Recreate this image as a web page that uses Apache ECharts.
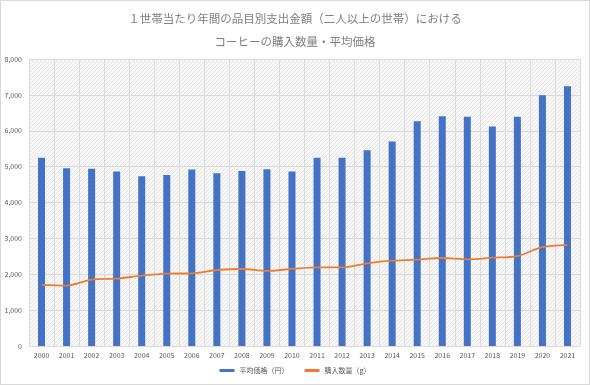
<!DOCTYPE html>
<html><head><meta charset="utf-8">
<script src="https://cdn.jsdelivr.net/npm/echarts@6/dist/echarts.min.js"></script>
<style>html,body{margin:0;padding:0;background:#fff}#c{width:590px;height:385px;box-sizing:border-box;border:1px solid #d9d9d9}</style>
</head><body><div id="c"></div>
<script>
const years = ['2000','2001','2002','2003','2004','2005','2006','2007','2008','2009','2010','2011','2012','2013','2014','2015','2016','2017','2018','2019','2020','2021'];
const avgPrice = [5250,4953,4944,4861,4730,4767,4917,4814,4878,4925,4861,5250,5250,5453,5703,6267,6406,6389,6119,6389,6989,7239];
const quantity = [1703,1684,1850,1878,1961,2017,2026,2119,2147,2092,2147,2194,2190,2305,2378,2405,2453,2416,2461,2508,2758,2814];
const seriesNames = ['平均価格（円）','購入数量（g）'];
const titleLines = ['１世帯当たり年間の品目別支出金額（二人以上の世帯）における','コーヒーの購入数量・平均価格'];

// hatch pattern for plot area
const pc = document.createElement('canvas'); pc.width = 4; pc.height = 4;
const px = pc.getContext('2d');
px.fillStyle = '#f7f7f7'; px.fillRect(0,0,4,4);
px.fillStyle = '#e6e6e6';
for (let i=0;i<4;i++){ px.fillRect(i,(3-i),1,1); }

const font = '"Noto Sans CJK JP", "Noto Sans", sans-serif';
const chart = echarts.init(document.getElementById('c'));
chart.setOption({
  animation:false,
  textStyle:{fontFamily:font},
  title:{
    text: titleLines.join('\n'), left:'center', top:1,
    textStyle:{fontSize:11.5, fontWeight:'normal', color:'#7f7f7f', lineHeight:23, fontFamily:font}
  },
  grid:{left:28, right:9, top:58, bottom:38, show:true, backgroundColor:{image:pc, repeat:'repeat'}, borderWidth:0},
  legend:{
    bottom:5, left:'center', itemWidth:15, itemHeight:3, itemGap:16,
    textStyle:{fontSize:7, color:'#595959'},
    data:[{name:seriesNames[0], icon:'rect'},{name:seriesNames[1], icon:'rect'}]
  },
  xAxis:{
    type:'category', data:years,
    axisLine:{lineStyle:{color:'#d9d9d9'}}, axisTick:{show:false},
    splitLine:{show:true, lineStyle:{color:'#d9d9d9'}},
    axisLabel:{fontSize:7, color:'#595959', margin:6, interval:0}
  },
  yAxis:{
    type:'value', min:0, max:8000, interval:1000,
    axisLine:{show:false}, axisTick:{show:false},
    splitLine:{lineStyle:{color:'#d9d9d9'}},
    axisLabel:{fontSize:7, color:'#595959', margin:7, formatter:v=>v.toLocaleString('en-US')}
  },
  series:[
    {name:seriesNames[0], type:'bar', data:avgPrice, barWidth:7, itemStyle:{color:'#4472C4'}},
    {name:seriesNames[1], type:'line', data:quantity, smooth:0.3, symbol:'none', lineStyle:{color:'#ED7D31', width:1.8}, itemStyle:{color:'#ED7D31'}}
  ]
});
</script></body></html>
